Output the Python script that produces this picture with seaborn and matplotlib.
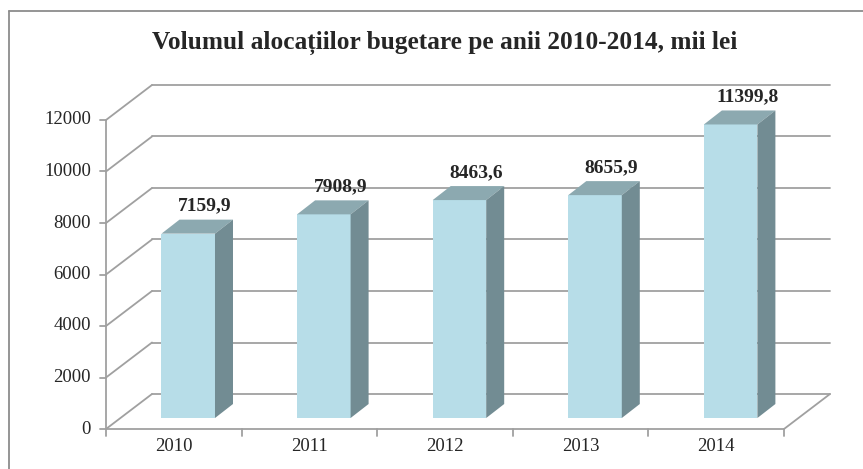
import matplotlib
matplotlib.use('Agg')

import matplotlib.pyplot as plt
import seaborn as sns
import pandas as pd

# data
years = ["2010", "2011", "2012", "2013", "2014"]
values = [7159.9, 7908.9, 8463.6, 8655.9, 11399.8]
value_labels = ["7159,9", "7908,9", "8463,6", "8655,9", "11399,8"]
y_ticks = [0, 2000, 4000, 6000, 8000, 10000, 12000]
title = "Volumul alocațiilor bugetare pe anii 2010-2014, mii lei"

# colours
front_col = "#B7DDE8"
top_col = "#8CA9B0"
side_col = "#728C93"
line_col = "#A0A0A0"

sns.set_style("white")
plt.rcParams['font.family'] = ['Liberation Serif', 'DejaVu Serif']

W, H = 863, 469
fig = plt.figure(figsize=(W / 100, H / 100), dpi=100)
ax = fig.add_axes([0, 0, 1, 1])

px_x0, px_x1 = 106, 784          # front axis ends
px_y0, px_ytop = 429, 120        # 0 and 12000 on the front axis
ux = (px_x1 - px_x0) / len(years)
uy = (px_y0 - px_ytop) / 12000
xl = -0.5 - px_x0 / ux
xr = -0.5 + (W - px_x0) / ux
yb = -(H - px_y0) / uy
yt = px_y0 / uy

# depth of the box, in data units
Dx = 46 / ux
Dy = 35 / uy
# bar placement inside the depth
bar_w = 53.5 / ux
bar_dx = 0.314 * Dx
bar_dy = 0.314 * Dy
bd_x = 18 / ux
bd_y = 14 / uy

# walls and gridlines
xa, xb = -0.5, len(years) - 0.5
for t in y_ticks:
    ax.plot([xa, xa + Dx], [t, t + Dy], color=line_col, lw=1.3, zorder=1)
    ax.plot([xa + Dx, xb + Dx], [t + Dy, t + Dy], color=line_col, lw=1.3, zorder=1)
# floor
ax.plot([xa, xb], [0, 0], color=line_col, lw=1.3, zorder=1)
ax.plot([xb, xb + Dx], [0, Dy], color=line_col, lw=1.3, zorder=1)
# front value axis
ax.plot([xa, xa], [0, y_ticks[-1]], color=line_col, lw=1.3, zorder=1)
for t in y_ticks:
    ax.plot([xa - 6 / ux, xa], [t, t], color=line_col, lw=1.3, zorder=1)
    ax.text(xa - 15 / ux, t, f"{t}", ha="right", va="center", fontsize=13.5)
for i in range(len(years) + 1):
    ax.plot([xa + i, xa + i], [0, -7 / uy], color=line_col, lw=1.3, zorder=1)
for i, yr in enumerate(years):
    ax.text(i, -17 / uy, yr, ha="center", va="center", fontsize=13.5)

# front faces
df = pd.DataFrame({"year": years, "value": values})
sns.barplot(data=df, x="year", y="value", ax=ax, color=front_col, saturation=1,
            width=bar_w, errorbar=None, linewidth=0, zorder=3)
for p in ax.patches:
    p.set_x(p.get_x() + bar_dx)
    p.set_y(bar_dy)

# top and side faces
for i, v in enumerate(values):
    x0 = i - bar_w / 2 + bar_dx
    x1 = x0 + bar_w
    ybot = bar_dy
    ytop = bar_dy + v
    ax.fill([x0, x1, x1 + bd_x, x0 + bd_x], [ytop, ytop, ytop + bd_y, ytop + bd_y],
            color=top_col, lw=0, zorder=4)
    ax.fill([x1, x1 + bd_x, x1 + bd_x, x1], [ybot, ybot + bd_y, ytop + bd_y, ytop],
            color=side_col, lw=0, zorder=4)
    ax.text(i + bar_dx + 17 / ux - 0.003, ytop + bd_y + 13.5 / uy, value_labels[i],
            ha="center", va="center", fontsize=14, fontweight="bold", zorder=5)

ax.set_xlim(xl, xr)
ax.set_ylim(yb, yt)
ax.axis("off")

# outer chart frame
fig.add_artist(plt.Line2D([8.5 / W, 8.5 / W], [0, 1 - 11.5 / H], color="#8C8C8C", lw=1.3))
fig.add_artist(plt.Line2D([8.5 / W, 1], [1 - 11.5 / H, 1 - 11.5 / H], color="#8C8C8C", lw=1.3))

fig.text(445 / W, 1 - 49 / H, title, ha="center", va="baseline",
         fontsize=18.3, fontweight="bold")

fig.savefig("out.png", dpi=100)
